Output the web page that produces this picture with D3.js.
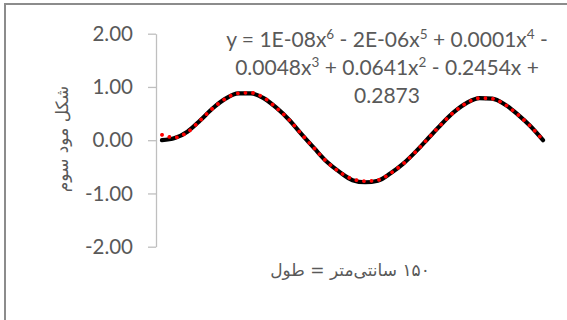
<!DOCTYPE html>
<html lang="fa">
<head>
  <meta charset="UTF-8">
  <title>شکل مود سوم</title>
  <script src="https://d3js.org/d3.v7.min.js"></script>
  <style>
    body { margin: 0; background: #fff; }
    svg { display: block; }
    .tick text { font-family: Lato, "Open Sans", sans-serif; fill: #595959; }
  </style>
</head>
<body>
  <script>
    // position along the beam (cm)
    const positions = [0, 5, 10, 15, 20, 25, 30, 35, 40, 45, 50, 55, 60, 65, 70, 75,
      80, 85, 90, 95, 100, 105, 110, 115, 120, 125, 130, 135, 140, 145, 150];
    // mode shape (black line)
    const modeValues = [0.00, 0.04, 0.16, 0.37, 0.60, 0.78, 0.88, 0.88, 0.79, 0.61, 0.385,
      0.11, -0.155, -0.41, -0.60, -0.75, -0.79, -0.76, -0.62, -0.44, -0.21,
      0.045, 0.30, 0.53, 0.70, 0.79, 0.78, 0.67, 0.485, 0.265, 0.00];
    // 6th order polynomial trendline (red dotted)
    const trendValues = [0.10, 0.05, 0.15, 0.37, 0.60, 0.78, 0.88, 0.89, 0.80, 0.61, 0.385,
      0.11, -0.155, -0.41, -0.60, -0.73, -0.77, -0.75, -0.62, -0.44, -0.21,
      0.045, 0.30, 0.53, 0.70, 0.79, 0.78, 0.67, 0.485, 0.265, 0.00];
    const yTicks = [-2, -1, 0, 1, 2];
    const yTitle = "شکل مود سوم";
    const xTitle = "۱۵۰ سانتی‌متر = طول";
    // trendline equation, [text, superscript]
    const eqLines = [
      [["y = 1E-08x", "6"], [" - 2E-06x", "5"], [" + 0.0001x", "4"], [" -", ""]],
      [["0.0048x", "3"], [" + 0.0641x", "2"], [" - 0.2454x +", ""]],
      [["0.2873", ""]]
    ];

    const width = 567, height = 320;

    const svg = d3.select("body").append("svg")
      .attr("width", width)
      .attr("height", height);

    // chart area border (only left and top edges show in the frame)
    svg.append("rect")
      .attr("x", 5).attr("y", 4)
      .attr("width", 700).attr("height", 500)
      .attr("fill", "none")
      .attr("stroke", "#8c8c8c")
      .attr("stroke-width", 2);

    const x = d3.scaleLinear().domain([0, 150]).range([162, 543]);
    const y = d3.scaleLinear().domain([-2, 2]).range([246.7, 33.7]);

    const yAxis = svg.append("g")
      .attr("transform", "translate(156,0)")
      .call(d3.axisLeft(y)
        .tickValues(yTicks)
        .tickFormat(d => d.toFixed(2))
        .tickSize(8)
        .tickSizeOuter(0)
        .tickPadding(15));
    yAxis.selectAll("line, path").attr("stroke", "#bfbfbf").attr("stroke-width", 1.3);
    yAxis.selectAll("text").attr("font-size", 20.5);

    const pts = positions.map((p, i) => ({ p, m: modeValues[i], t: trendValues[i] }));

    const modeLine = d3.line()
      .x(d => x(d.p))
      .y(d => y(d.m))
      .curve(d3.curveMonotoneX);
    const trendLine = d3.line()
      .x(d => x(d.p))
      .y(d => y(d.t))
      .curve(d3.curveMonotoneX);

    svg.append("path")
      .datum(pts)
      .attr("d", modeLine)
      .attr("fill", "none")
      .attr("stroke", "#000")
      .attr("stroke-width", 4.2)
      .attr("stroke-linecap", "round");

    svg.append("path")
      .datum(pts)
      .attr("d", trendLine)
      .attr("fill", "none")
      .attr("stroke", "#ff0000")
      .attr("stroke-width", 3.8)
      .attr("stroke-linecap", "round")
      .attr("stroke-dasharray", "0.01 7.6");

    // trendline equation
    const eq = svg.append("text")
      .attr("font-family", "Lato, 'Open Sans', sans-serif")
      .attr("font-size", 21)
      .attr("fill", "#595959")
      .attr("text-anchor", "middle");
    eqLines.forEach((line, li) => {
      const row = eq.append("tspan").attr("x", 387).attr("y", 47 + li * 28);
      let shift = 0;
      line.forEach(([base, sup]) => {
        row.append("tspan").attr("dy", shift).text(base);
        shift = 0;
        if (sup) {
          row.append("tspan").attr("dy", -8).attr("font-size", 13.5).text(sup);
          shift = 8;
        }
      });
    });

    // axis titles
    svg.append("text")
      .attr("transform", "translate(68,139) rotate(-90)")
      .attr("text-anchor", "middle")
      .attr("direction", "rtl")
      .attr("font-family", "'DejaVu Sans', sans-serif")
      .attr("font-size", 17)
      .attr("fill", "#595959")
      .text(yTitle);

    svg.append("text")
      .attr("x", 350).attr("y", 276)
      .attr("text-anchor", "middle")
      .attr("direction", "rtl")
      .attr("font-family", "'DejaVu Sans', sans-serif")
      .attr("font-size", 17)
      .attr("fill", "#595959")
      .text(xTitle);
  </script>
</body>
</html>
